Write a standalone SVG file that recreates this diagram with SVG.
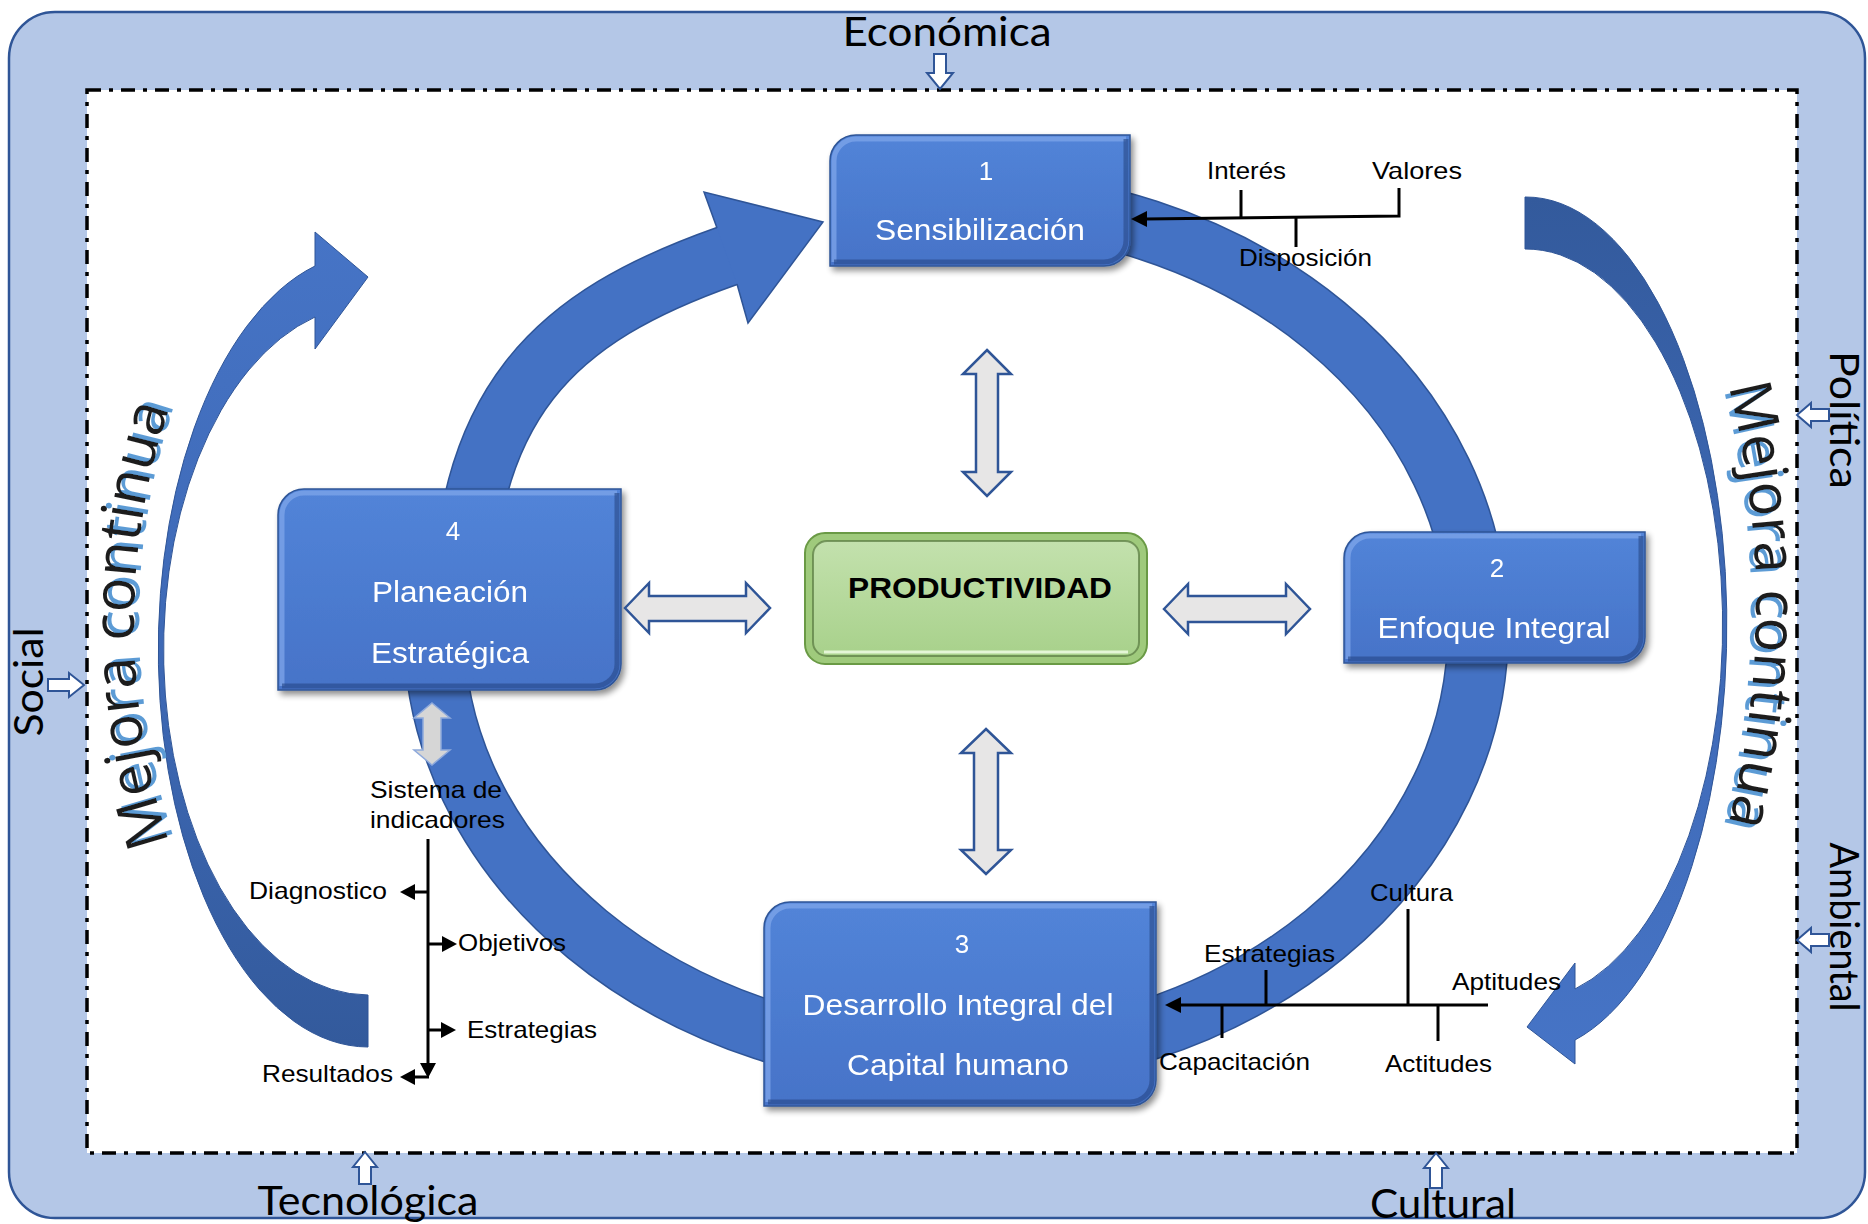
<svg xmlns="http://www.w3.org/2000/svg" width="1868" height="1224" viewBox="0 0 1868 1224">
<defs>
<style>
.lbl{font-family:"Liberation Sans",Arial,sans-serif;font-size:24px;fill:#000}
.frm{font-family:Lato,"Liberation Sans",sans-serif;font-size:41px;fill:#000;text-anchor:middle}
.wt{font-family:"Liberation Sans",Arial,sans-serif;fill:#fff;text-anchor:middle}
.num{font-size:26px}
.bl{font-size:30px}
.mc{font-family:"Open Sans","Liberation Sans",sans-serif;font-size:58px;text-anchor:middle;fill:#1e1e1e}
.box{fill:url(#boxFill);stroke:#2f5597;stroke-width:1.5}
.hl{fill:none;stroke:#7fa6ea;stroke-width:5;stroke-opacity:0.75}
.dk{fill:none;stroke:#2a4c8c;stroke-width:5;stroke-opacity:0.65}
.ringE{fill:none;stroke:#2f5597;stroke-width:62}
.ring{fill:none;stroke:#4472c4;stroke-width:59}
.dbl{fill:#e7e6e6;stroke:#2f5597;stroke-width:2.5}
.sm{fill:#fff;stroke:#2f5597;stroke-width:2}
.ln{fill:none;stroke:#000;stroke-width:3}
.hd{fill:#000}
</style>
<linearGradient id="boxFill" x1="0" y1="0" x2="0" y2="1">
<stop offset="0" stop-color="#5284d8"/>
<stop offset="1" stop-color="#4673c8"/>
</linearGradient>
<linearGradient id="greenFill" x1="0" y1="0" x2="0" y2="1">
<stop offset="0" stop-color="#c3e1ad"/>
<stop offset="1" stop-color="#a8d18b"/>
</linearGradient>
<linearGradient id="arcL" gradientUnits="userSpaceOnUse" x1="0" y1="232" x2="0" y2="1047">
<stop offset="0" stop-color="#4674c6"/>
<stop offset="0.55" stop-color="#3d68b4"/>
<stop offset="1" stop-color="#335a9c"/>
</linearGradient>
<linearGradient id="arcR" gradientUnits="userSpaceOnUse" x1="0" y1="197" x2="0" y2="1064">
<stop offset="0" stop-color="#335a9c"/>
<stop offset="0.45" stop-color="#3d68b4"/>
<stop offset="1" stop-color="#4674c6"/>
</linearGradient>
<filter id="shadow" x="-10%" y="-10%" width="125%" height="130%">
<feGaussianBlur in="SourceAlpha" stdDeviation="3"/>
<feOffset dx="3" dy="4"/>
<feComponentTransfer><feFuncA type="linear" slope="0.45"/></feComponentTransfer>
<feMerge><feMergeNode/><feMergeNode in="SourceGraphic"/></feMerge>
</filter>
<filter id="mcShL" x="-20%" y="-10%" width="140%" height="120%">
<feOffset in="SourceAlpha" dx="5" dy="-3" result="o"/>
<feFlood flood-color="#5b9bd5"/>
<feComposite in2="o" operator="in"/>
<feMerge><feMergeNode/><feMergeNode in="SourceGraphic"/></feMerge>
</filter>
<filter id="mcShR" x="-20%" y="-10%" width="140%" height="120%">
<feOffset in="SourceAlpha" dx="-5" dy="3" result="o"/>
<feFlood flood-color="#5b9bd5"/>
<feComposite in2="o" operator="in"/>
<feMerge><feMergeNode/><feMergeNode in="SourceGraphic"/></feMerge>
</filter>
<path id="mcL" d="M172,850 A685 685 0 0 1 172,400" fill="none"/>
<path id="mcR" d="M1728,385 A878 878 0 0 1 1728,825" fill="none"/>
</defs>

<g id="frame">
<rect x="9" y="12" width="1856" height="1206" rx="46" fill="#b4c7e7" stroke="#2f5597" stroke-width="2.5"/>
<rect x="87" y="90" width="1710" height="1063" fill="#fff" stroke="#000" stroke-width="3.5" stroke-dasharray="14 8 4 8"/>
</g>

<g id="environment">
<text class="frm" x="947" y="46" textLength="209" lengthAdjust="spacingAndGlyphs">Económica</text>
<polygon class="sm" points="934,54 946,54 946,73 953,73 940,89 927,73 934,73"/>
<text class="frm" x="368" y="1215" textLength="221" lengthAdjust="spacingAndGlyphs">Tecnológica</text>
<polygon class="sm" points="365,1152 377,1167 371,1167 371,1184 359,1184 359,1167 353,1167"/>
<text class="frm" x="1443" y="1218" textLength="146" lengthAdjust="spacingAndGlyphs">Cultural</text>
<polygon class="sm" points="1436,1153 1448,1168 1442,1168 1442,1188 1430,1188 1430,1168 1424,1168"/>
<text class="frm" transform="translate(43,682) rotate(-90)" textLength="109" lengthAdjust="spacingAndGlyphs">Social</text>
<polygon class="sm" points="84,685 69,673 69,679 48,679 48,691 69,691 69,697"/>
<text class="frm" transform="translate(1830,420) rotate(90)" textLength="138" lengthAdjust="spacingAndGlyphs">Política</text>
<polygon class="sm" points="1797,415 1811,403 1811,409 1829,409 1829,421 1811,421 1811,427"/>
<text class="frm" transform="translate(1830,927) rotate(90)" textLength="169" lengthAdjust="spacingAndGlyphs">Ambiental</text>
<polygon class="sm" points="1797,940 1811,928 1811,934 1829,934 1829,946 1811,946 1811,952"/>
</g>

<g id="mejora-continua-left">
<path d="M368,1047 A210 397 0 0 1 315,266 L315,232 L368,277 L315,349 L315,317 A205 345 0 0 0 368,995 Z" fill="url(#arcL)" stroke="#2f5597" stroke-width="1"/>
<text class="mc" filter="url(#mcShL)"><textPath href="#mcL" startOffset="50%">Mejora continua</textPath></text>
</g>

<g id="mejora-continua-right">
<path d="M1525,197 A201 428 0 0 1 1575,1040 L1575,1064 L1527,1027 L1575,963 L1575,989 A197 376 0 0 0 1525,249 Z" fill="url(#arcR)" stroke="#2f5597" stroke-width="1"/>
<text class="mc" filter="url(#mcShR)"><textPath href="#mcR" startOffset="50%">Mejora continua</textPath></text>
</g>

<g id="cycle">
<path class="ringE" d="M956,200 A522 430 0 1 1 434,630"/>
<path class="ring" d="M956,200 A522 430 0 1 1 434,630"/>
<path class="ringE" d="M462,640 C458,400 557,316 727,256 L734,253.5"/>
<path class="ring" d="M462,640 C458,400 557,316 727,256 L734,253.5"/>
<polygon points="717,228 704,192 823,222 748,323 737,284" fill="#4472c4"/>
<polyline points="717,228 704,192 823,222 748,323 737,284" fill="none" stroke="#2f5597" stroke-width="1.5"/>
</g>

<g id="node-1" filter="url(#shadow)">
<path class="box" d="M856,135 H1130 V240 A26 26 0 0 1 1104,266 H830 V161 A26 26 0 0 1 856,135 Z"/>
<path class="hl" d="M834,262 V161 A22 22 0 0 1 856,139 H1126"/>
<path class="dk" d="M1126,139 V240 A22 22 0 0 1 1104,262 H834"/>
<text class="wt num" x="986" y="180">1</text>
<text class="wt bl" x="980" y="240" textLength="210" lengthAdjust="spacingAndGlyphs">Sensibilización</text>
</g>

<g id="node-2" filter="url(#shadow)">
<path class="box" d="M1370,532 H1645 V637 A26 26 0 0 1 1619,663 H1344 V558 A26 26 0 0 1 1370,532 Z"/>
<path class="hl" d="M1348,659 V558 A22 22 0 0 1 1370,536 H1641"/>
<path class="dk" d="M1641,536 V637 A22 22 0 0 1 1619,659 H1348"/>
<text class="wt num" x="1497" y="577">2</text>
<text class="wt bl" x="1494" y="638" textLength="233" lengthAdjust="spacingAndGlyphs">Enfoque Integral</text>
</g>

<g id="node-3" filter="url(#shadow)">
<path class="box" d="M790,902 H1156 V1080 A26 26 0 0 1 1130,1106 H764 V928 A26 26 0 0 1 790,902 Z"/>
<path class="hl" d="M768,1102 V928 A22 22 0 0 1 790,906 H1152"/>
<path class="dk" d="M1152,906 V1080 A22 22 0 0 1 1130,1102 H768"/>
<text class="wt num" x="962" y="953">3</text>
<text class="wt bl" x="958" y="1015" textLength="311" lengthAdjust="spacingAndGlyphs">Desarrollo Integral del</text>
<text class="wt bl" x="958" y="1075" textLength="222" lengthAdjust="spacingAndGlyphs">Capital humano</text>
</g>

<g id="node-4" filter="url(#shadow)">
<path class="box" d="M304,489 H621 V664 A26 26 0 0 1 595,690 H278 V515 A26 26 0 0 1 304,489 Z"/>
<path class="hl" d="M282,686 V515 A22 22 0 0 1 304,493 H617"/>
<path class="dk" d="M617,493 V664 A22 22 0 0 1 595,686 H282"/>
<text class="wt num" x="453" y="540">4</text>
<text class="wt bl" x="450" y="602" textLength="156" lengthAdjust="spacingAndGlyphs">Planeación</text>
<text class="wt bl" x="450" y="663" textLength="158" lengthAdjust="spacingAndGlyphs">Estratégica</text>
</g>

<g id="node-productividad">
<rect x="805" y="533" width="342" height="131" rx="20" fill="#9fca7c" stroke="#6a9a45" stroke-width="2"/>
<rect x="813" y="541" width="326" height="115" rx="14" fill="url(#greenFill)" stroke="#5e7f45" stroke-opacity="0.75" stroke-width="2"/>
<path d="M824,652 H1128" stroke="#e4f6d6" stroke-width="3" fill="none"/>
<text x="980" y="598" text-anchor="middle" font-family="'Liberation Sans',Arial,sans-serif" font-weight="bold" font-size="30" textLength="264" lengthAdjust="spacingAndGlyphs" fill="#000">PRODUCTIVIDAD</text>
</g>

<g id="connectors">
<polygon class="dbl" points="987,350 1011,374 998,374 998,472 1011,472 987,496 963,472 976,472 976,374 963,374"/>
<polygon class="dbl" points="986,729 1011,753 998,753 998,850 1011,850 986,874 961,850 974,850 974,753 961,753"/>
<polygon class="dbl" points="625,608 649,583 649,596 746,596 746,583 770,608 746,633 746,621 649,621 649,633"/>
<polygon class="dbl" points="1164,609 1188,584 1188,596 1286,596 1286,584 1310,609 1286,634 1286,622 1188,622 1188,634"/>
<polygon points="432,703 450,718 441,718 441,750 450,750 432,765 414,750 423,750 423,718 414,718" fill="#d6d6d6" stroke="#8faadc" stroke-width="1.5"/>

<path class="ln" d="M1399,188 V216 L1145,219"/>
<polygon class="hd" points="1131,219 1147,211 1147,227"/>
<path class="ln" d="M1241,190 V217"/>
<path class="ln" d="M1296,217 V247"/>

<path class="ln" d="M1488,1005 H1180"/>
<polygon class="hd" points="1165,1005 1181,997 1181,1013"/>
<path class="ln" d="M1408,909 V1005"/>
<path class="ln" d="M1266,970 V1005"/>
<path class="ln" d="M1222,1005 V1038"/>
<path class="ln" d="M1438,1005 V1041"/>

<path class="ln" d="M428,839 V1064"/>
<polygon class="hd" points="428,1078 420,1063 436,1063"/>
<path class="ln" d="M429,1077 H414"/>
<polygon class="hd" points="400,1077 415,1069 415,1085"/>
<path class="ln" d="M428,892 H414"/>
<polygon class="hd" points="400,892 415,884 415,900"/>
<path class="ln" d="M428,944 H443"/>
<polygon class="hd" points="457,944 442,936 442,952"/>
<path class="ln" d="M428,1030 H442"/>
<polygon class="hd" points="456,1030 441,1022 441,1038"/>
</g>

<g id="labels">
<text class="lbl" x="1207" y="179" textLength="79" lengthAdjust="spacingAndGlyphs">Interés</text>
<text class="lbl" x="1372" y="179" textLength="90" lengthAdjust="spacingAndGlyphs">Valores</text>
<text class="lbl" x="1239" y="266" textLength="133" lengthAdjust="spacingAndGlyphs">Disposición</text>
<text class="lbl" x="1370" y="901" textLength="83" lengthAdjust="spacingAndGlyphs">Cultura</text>
<text class="lbl" x="1204" y="962" textLength="131" lengthAdjust="spacingAndGlyphs">Estrategias</text>
<text class="lbl" x="1452" y="990" textLength="109" lengthAdjust="spacingAndGlyphs">Aptitudes</text>
<text class="lbl" x="1159" y="1070" textLength="151" lengthAdjust="spacingAndGlyphs">Capacitación</text>
<text class="lbl" x="1385" y="1072" textLength="107" lengthAdjust="spacingAndGlyphs">Actitudes</text>
<text class="lbl" x="370" y="798" textLength="132" lengthAdjust="spacingAndGlyphs">Sistema de</text>
<text class="lbl" x="370" y="828" textLength="135" lengthAdjust="spacingAndGlyphs">indicadores</text>
<text class="lbl" x="249" y="899" textLength="138" lengthAdjust="spacingAndGlyphs">Diagnostico</text>
<text class="lbl" x="458" y="951" textLength="108" lengthAdjust="spacingAndGlyphs">Objetivos</text>
<text class="lbl" x="467" y="1038" textLength="130" lengthAdjust="spacingAndGlyphs">Estrategias</text>
<text class="lbl" x="262" y="1082" textLength="131" lengthAdjust="spacingAndGlyphs">Resultados</text>
</g>
</svg>
